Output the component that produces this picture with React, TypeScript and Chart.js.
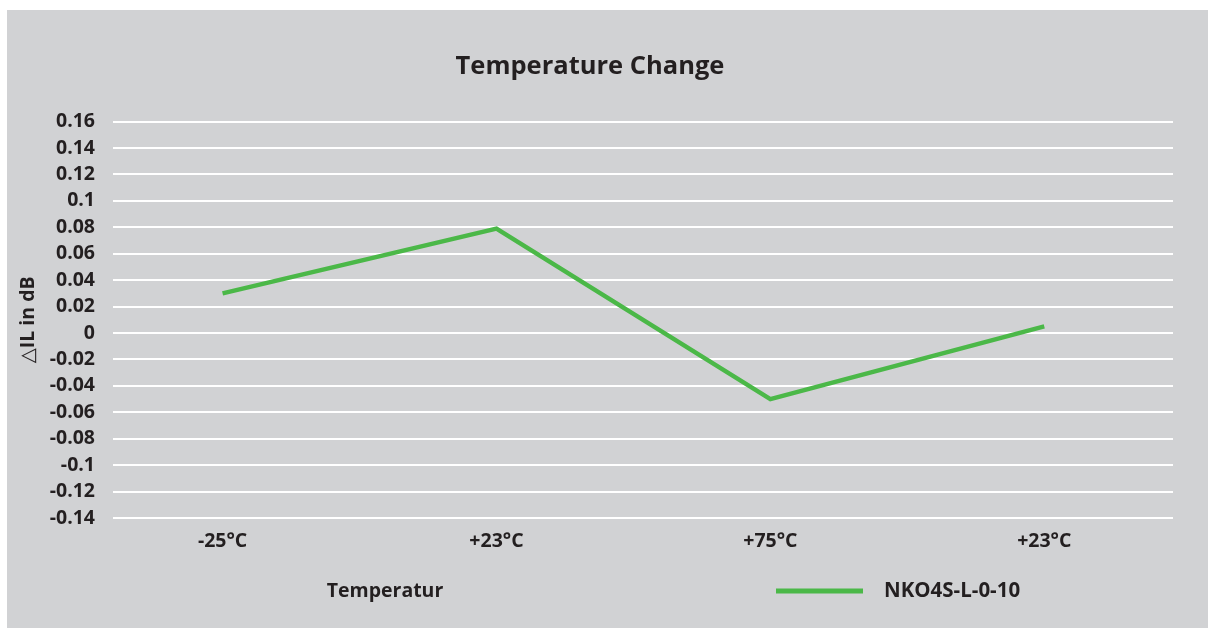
import React, { useEffect, useRef } from "react";
import { Chart, registerables } from "chart.js";

Chart.register(...registerables);

// ---- data ----
const categories = ["-25°C", "+23°C", "+75°C", "+23°C"];
const seriesLabel = "NKO4S-L-0-10";
const seriesValues = [0.03, 0.079, -0.05, 0.005];
const chartTitle = "Temperature Change";
const xTitle = "Temperatur";
const yTitle = "△IL in dB";
const yMin = -0.14;
const yMax = 0.16;
const yStep = 0.02;

// ---- styles ----
const FONT = '"Open Sans", "Noto Sans", "DejaVu Sans", sans-serif';
const TEXT = "#231f20";
const GREEN = "#4bb848";
const BG = "#d1d2d4";

const bottomRowPlugin = {
  id: "bottomRow",
  afterDraw(chart: any) {
    const ctx = chart.ctx as CanvasRenderingContext2D;
    const ds = chart.data.datasets[0];
    const y = chart.chartArea.bottom + 73;
    ctx.save();
    ctx.fillStyle = TEXT;
    ctx.textBaseline = "middle";
    ctx.textAlign = "center";
    ctx.font = `bold 19.5px ${FONT}`;
    ctx.fillText(xTitle, 378, y);
    ctx.strokeStyle = ds.borderColor;
    ctx.lineWidth = 5;
    ctx.beginPath();
    ctx.moveTo(769, y);
    ctx.lineTo(856, y);
    ctx.stroke();
    ctx.textAlign = "left";
    ctx.font = `bold 20.5px ${FONT}`;
    ctx.fillText(ds.label, 877, y);
    ctx.restore();
  },
};

export default function App() {
  const ref = useRef<HTMLCanvasElement | null>(null);

  useEffect(() => {
    if (!ref.current) return;
    const chart = new Chart(ref.current, {
      type: "line",
      data: {
        datasets: [
          {
            label: seriesLabel,
            data: seriesValues.map((v, i) => ({ x: i, y: v })),
            borderColor: GREEN,
            backgroundColor: GREEN,
            borderWidth: 4.5,
            pointRadius: 0,
            pointHoverRadius: 0,
            tension: 0,
            borderJoinStyle: "miter",
            borderCapStyle: "butt",
          },
        ],
      },
      options: {
        animation: false,
        responsive: true,
        maintainAspectRatio: false,
        events: [],
        layout: { padding: { left: 0, right: 35, top: 0, bottom: 0 } },
        plugins: {
          legend: { display: false },
          tooltip: { enabled: false },
          title: {
            display: true,
            text: chartTitle,
            color: TEXT,
            font: { family: FONT, size: 25.5, weight: "bold" },
            padding: { top: 41.5, bottom: 39.5 },
          },
        },
        scales: {
          x: {
            type: "linear",
            min: -0.4,
            max: 3.47,
            afterBuildTicks: (scale: any) => {
              scale.ticks = categories.map((_, i) => ({ value: i }));
            },
            afterFit: (scale: any) => {
              scale.height = 110;
            },
            grid: { display: false, drawTicks: false },
            border: { display: false },
            ticks: {
              color: TEXT,
              font: { family: FONT, size: 19.5, weight: "bold" },
              padding: 11.5,
              maxRotation: 0,
              autoSkip: false,
              callback: (v: any) => categories[Math.round(Number(v))] ?? "",
            },
          },
          y: {
            min: yMin,
            max: yMax,
            afterFit: (scale: any) => {
              scale.width = 106;
            },
            grid: { color: "#ffffff", lineWidth: 2, drawTicks: false },
            border: { display: false },
            title: {
              display: true,
              text: yTitle,
              color: TEXT,
              font: { family: FONT, size: 19.5, weight: "bold" },
              padding: { top: 10, bottom: 0 },
            },
            ticks: {
              stepSize: yStep,
              color: TEXT,
              font: { family: FONT, size: 19.5, weight: "bold" },
              padding: 18,
              callback: (v: any) => String(Number(Number(v).toFixed(2))),
            },
          },
        },
      },
      plugins: [bottomRowPlugin],
    });
    return () => chart.destroy();
  }, []);

  return (
    <div
      style={{
        position: "fixed",
        left: 7,
        top: 10,
        width: 1201,
        height: 618,
        background: BG,
      }}
    >
      <canvas ref={ref} />
    </div>
  );
}
